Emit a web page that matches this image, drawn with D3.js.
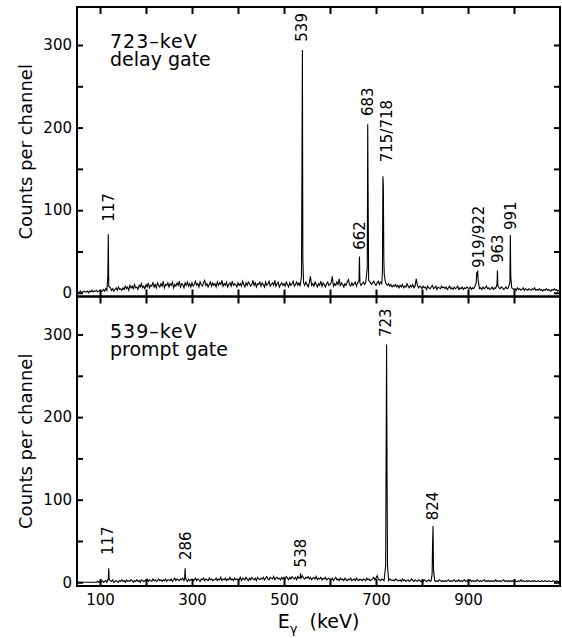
<!DOCTYPE html>
<html>
<head>
<meta charset="utf-8">
<script src="https://cdnjs.cloudflare.com/ajax/libs/d3/7.8.5/d3.min.js"></script>
<style>
    body { margin: 0; background: white; }
    text { font-family: "DejaVu Sans", sans-serif; fill: black; }
    .axis text { font-size: 15px; }
    .axis line { stroke: black; stroke-width: 2; }
    .axis path { display: none; }
    .peak.label { font-size: 15px; }
    .gate.label { font-size: 19px; }
    .axis.title { font-size: 18px; }
    .x.title { font-size: 19px; }
    .spectrum { fill: none; stroke: black; stroke-width: 1.1; stroke-linejoin: miter; }
    .frame { fill: none; stroke: black; stroke-width: 2; }
</style>
</head>
<body>
<svg id="chart" width="562" height="638"></svg>
<script>
// background channels, one value every 2.5 keV from 50 to 1100 keV
const bgEnergies = d3.range(50, 1100.1, 2.5);

// 723-keV delay gate (one row = 50 keV)
const topBackground = [
    1, 0, 1, 2, 0, 1, 2, 1, 1, 2, 0, 2, 1, 3, 1, 2, 2, 3, 1, 2,
    3, 1, 2, 4, 2, 5, 3, 2, 4, 6, 3, 5, 2, 4, 6, 3, 7, 4, 5, 3,
    6, 4, 8, 5, 7, 3, 9, 6, 8, 5, 10, 6, 7, 4, 9, 7, 11, 6, 8, 5,
    10, 7, 12, 6, 9, 8, 13, 7, 10, 6, 12, 9, 7, 11, 8, 14, 6, 10, 9, 12,
    7, 11, 9, 13, 6, 10, 8, 12, 9, 14, 7, 11, 10, 6, 12, 9, 13, 8, 11, 7,
    12, 8, 10, 14, 9, 11, 7, 13, 10, 8, 12, 15, 9, 11, 7, 10, 13, 8, 12, 9,
    11, 7, 13, 9, 12, 10, 15, 8, 11, 9, 13, 7, 10, 12, 8, 14, 9, 11, 10, 7,
    12, 9, 11, 8, 14, 10, 7, 12, 9, 13, 11, 8, 10, 15, 9, 12, 7, 11, 10, 13,
    8, 12, 10, 7, 13, 9, 11, 14, 8, 10, 12, 9, 15, 8, 11, 13, 7, 10, 12, 9,
    11, 8, 13, 10, 7, 12, 9, 11, 14, 8, 10, 13, 9, 12, 8, 11, 16, 12, 9, 13,
    10, 7, 12, 20, 9, 11, 8, 13, 10, 7, 11, 9, 14, 8, 12, 10, 7, 11, 13, 9,
    10, 12, 20, 8, 11, 9, 13, 10, 17, 8, 12, 10, 7, 11, 9, 13, 16, 10, 8, 12,
    9, 11, 13, 8, 12, 10, 14, 9, 11, 13, 10, 12, 15, 9, 11, 13, 10, 12, 14, 11,
    9, 12, 14, 10, 13, 11, 8, 12, 14, 10, 9, 11, 8, 10, 7, 9, 8, 10, 7, 9,
    6, 9, 7, 10, 6, 8, 7, 11, 8, 6, 9, 7, 10, 6, 8, 17, 9, 6, 8, 7,
    5, 8, 6, 7, 4, 8, 6, 5, 7, 9, 5, 6, 8, 4, 7, 6, 5, 8, 6, 7,
    5, 7, 4, 6, 8, 5, 6, 4, 7, 5, 6, 8, 4, 6, 5, 7, 4, 6, 5, 7,
    6, 5, 7, 4, 6, 5, 8, 6, 4, 7, 5, 6, 4, 7, 5, 6, 8, 5, 6, 4,
    5, 7, 4, 6, 5, 8, 4, 6, 5, 7, 6, 4, 5, 7, 5, 6, 4, 5, 6, 5,
    4, 5, 3, 6, 4, 5, 3, 4, 6, 3, 5, 4, 3, 5, 4, 3, 5, 4, 6, 3,
    4, 3, 5, 3, 4, 2, 4, 3, 5, 3, 4, 3, 2, 4, 3, 5, 3, 4, 2, 3,
    2
];
// peak channels [keV, counts]
const topPeaks = [
    [117, 20], [118, 71], [119, 8],
    [538, 20], [539, 150], [540, 294], [541, 40],
    [663, 15], [664, 44], [665, 12],
    [681, 30], [682, 204], [683, 106], [684, 15],
    [714, 25], [715, 141], [716, 128], [717, 40], [718, 22],
    [918, 12], [919, 25], [920, 20], [921, 27], [922, 15],
    [963, 10], [964, 27], [965, 8],
    [991, 12], [992, 70], [993, 20]
];
const topLabels = ["117", "539", "662", "683", "715/718", "919/922", "963", "991"];
const topLabelEnergies = [118, 538, 664, 682, 724, 922, 964, 992];
const topLabelCounts = [86, 304, 52, 214, 158, 30, 36, 76];
const topGate = ["723\u2013keV", "delay gate"];

// 539-keV prompt gate (one row = 50 keV)
const bottomBackground = [
    0, 0, 0, 0, 0, 0, 0, 0, 0, 0, 0, 0, 0, 0, 0, 0, 0, 0, 1, 0,
    1, 0, 2, 0, 1, 2, 0, 1, 0, 2, 1, 3, 0, 1, 2, 1, 0, 2, 1, 3,
    1, 2, 0, 3, 1, 2, 1, 3, 2, 0, 2, 1, 3, 1, 2, 0, 3, 2, 1, 2,
    2, 4, 1, 3, 2, 1, 4, 2, 3, 1, 2, 4, 2, 3, 1, 3, 2, 4, 1, 3,
    3, 2, 4, 1, 3, 5, 2, 4, 3, 2, 4, 3, 5, 2, 4, 3, 1, 4, 2, 3,
    4, 2, 3, 5, 2, 4, 3, 1, 4, 3, 5, 2, 4, 3, 2, 5, 3, 4, 2, 3,
    3, 5, 2, 4, 3, 6, 2, 4, 3, 5, 2, 4, 3, 6, 3, 4, 2, 5, 3, 4,
    4, 3, 6, 2, 5, 4, 3, 6, 4, 2, 5, 3, 6, 4, 3, 5, 2, 6, 4, 3,
    5, 4, 6, 3, 5, 7, 4, 3, 6, 5, 4, 7, 3, 5, 6, 4, 5, 3, 6, 4,
    6, 4, 7, 5, 3, 6, 4, 7, 5, 4, 6, 3, 7, 5, 4, 6, 8, 5, 4, 6,
    5, 7, 4, 6, 3, 5, 6, 4, 7, 3, 5, 4, 6, 3, 5, 4, 6, 3, 4, 5,
    4, 3, 5, 2, 4, 6, 3, 4, 2, 5, 3, 4, 2, 5, 3, 2, 4, 3, 5, 2,
    3, 4, 2, 5, 3, 2, 4, 3, 2, 4, 3, 2, 5, 3, 4, 2, 3, 4, 6, 3,
    5, 8, 4, 3, 2, 4, 3, 2, 3, 4, 3, 2, 4, 3, 2, 3, 2, 4, 3, 2,
    2, 3, 1, 4, 2, 3, 1, 2, 3, 1, 2, 4, 2, 1, 3, 2, 1, 3, 2, 1,
    2, 1, 3, 2, 1, 2, 3, 1, 2, 1, 3, 2, 1, 2, 1, 3, 2, 1, 2, 1,
    2, 1, 2, 3, 1, 2, 1, 2, 3, 1, 2, 1, 3, 1, 2, 1, 2, 3, 1, 2,
    1, 2, 3, 1, 2, 1, 2, 1, 3, 2, 1, 2, 1, 2, 3, 1, 2, 1, 2, 1,
    2, 1, 2, 1, 3, 1, 2, 1, 2, 1, 2, 3, 1, 2, 1, 2, 1, 2, 1, 2,
    1, 2, 1, 1, 2, 1, 3, 1, 2, 1, 1, 2, 1, 2, 1, 1, 2, 1, 2, 1,
    1, 2, 1, 1, 2, 1, 1, 2, 1, 1, 2, 1, 1, 1, 2, 1, 1, 2, 1, 1,
    1
];
const bottomPeaks = [
    [118, 4], [119, 17], [120, 3],
    [284, 4], [285, 17], [286, 5],
    [535, 6], [536, 11], [537, 5],
    [721, 20], [722, 154], [723, 288], [724, 134], [725, 20],
    [822, 10], [823, 48], [824, 68], [825, 15]
];
const bottomLabels = ["117", "286", "538", "723", "824"];
const bottomLabelEnergies = [116, 285, 535, 720, 822];
const bottomLabelCounts = [33, 27, 18, 297, 75];
const bottomGate = ["539\u2013keV", "prompt gate"];

// axes
const energyDomain = [50, 1100];
const countDomain = [-4.5, 346];
const yTicks = [0, 50, 100, 150, 200, 250, 300];
const yTickLabels = [0, 100, 200, 300];
const xTicks = [100, 200, 300, 400, 500, 600, 700, 800, 900, 1000];
const xTickLabels = [100, 300, 500, 700, 900];

let margin = { left: 77, right: 2, top: 7, bottom: 52 };
let w = 562;
let h = 638;
let panelH = (h - margin.top - margin.bottom) / 2;

let svg = d3.select("#chart");

let xScale = d3.scaleLinear()
    .domain(energyDomain)
    .range([margin.left, w - margin.right]);

// merges the peak channels into the background and sorts by energy
function buildSpectrum(background, peaks) {
    let points = bgEnergies.map((e, i) => [e, background[i]])
        .filter((p) => !peaks.some((q) => Math.abs(q[0] - p[0]) < 1.3));
    return points.concat(peaks).sort((a, b) => a[0] - b[0]);
}

function drawPanel(index, background, peaks, labels, labelEnergies, labelCounts, gate) {
    let top = margin.top + index * panelH;
    let bottom = top + panelH;
    let yScale = d3.scaleLinear()
        .domain(countDomain)
        .range([bottom, top]);

    let g = svg.append("g").attr("class", "panel");

    // keeps the spectrum inside the frame
    let clipId = "clip" + index;
    g.append("clipPath").attr("id", clipId)
        .append("rect")
        .attr("x", margin.left)
        .attr("y", top)
        .attr("width", w - margin.left - margin.right)
        .attr("height", panelH);

    let line = d3.line()
        .x((d) => xScale(d[0]))
        .y((d) => yScale(d[1]));

    g.append("path")
        .attr("class", "spectrum")
        .attr("clip-path", "url(#" + clipId + ")")
        .attr("d", line(buildSpectrum(background, peaks)));

    // inward ticks on all four sides
    g.append("g")
        .attr("class", "y axis")
        .attr("transform", "translate(" + margin.left + ",0)")
        .call(d3.axisLeft(yScale)
            .tickValues(yTicks)
            .tickSize(-6)
            .tickPadding(5)
            .tickFormat((d) => yTickLabels.includes(d) ? d : ""));

    g.append("g")
        .attr("class", "y axis")
        .attr("transform", "translate(" + (w - margin.right) + ",0)")
        .call(d3.axisRight(yScale)
            .tickValues(yTicks)
            .tickSize(-6)
            .tickFormat(""));

    g.append("g")
        .attr("class", "x axis")
        .attr("transform", "translate(0," + top + ")")
        .call(d3.axisTop(xScale)
            .tickValues(xTicks)
            .tickSize(-7)
            .tickFormat(""));

    g.append("g")
        .attr("class", "x axis")
        .attr("transform", "translate(0," + bottom + ")")
        .call(d3.axisBottom(xScale)
            .tickValues(xTicks)
            .tickSize(-7)
            .tickPadding(8)
            .tickFormat((d) => (index == 1 && xTickLabels.includes(d)) ? d : ""));

    g.append("rect")
        .attr("class", "frame")
        .attr("x", margin.left)
        .attr("y", top)
        .attr("width", w - margin.left - margin.right)
        .attr("height", panelH);

    // peak labels, written upwards
    g.selectAll(".peak.label")
        .data(labels)
        .enter()
        .append("text")
        .attr("class", "peak label")
        .attr("transform", (d, i) => "translate(" + xScale(labelEnergies[i]) + "," + yScale(labelCounts[i]) + ") rotate(-90)")
        .attr("dy", "0.36em")
        .text((d) => d);

    // gate description
    let gateText = g.append("text")
        .attr("class", "gate label")
        .attr("x", 110)
        .attr("y", top + 41);
    gate.forEach((t, i) => {
        gateText.append("tspan")
            .attr("x", 110)
            .attr("dy", i == 0 ? 0 : 18)
            .style("letter-spacing", i == 0 ? "1px" : "0px")
            .text(t);
    });

    // y axis title
    g.append("text")
        .attr("class", "axis title")
        .attr("text-anchor", "middle")
        .attr("transform", "translate(31.5," + (top + bottom) / 2 + ") rotate(-90)")
        .text("Counts per channel");
}

drawPanel(0, topBackground, topPeaks, topLabels, topLabelEnergies, topLabelCounts, topGate);
drawPanel(1, bottomBackground, bottomPeaks, bottomLabels, bottomLabelEnergies, bottomLabelCounts, bottomGate);

// x axis title
let xTitle = svg.append("text")
    .attr("class", "x title")
    .attr("text-anchor", "middle")
    .attr("x", (margin.left + w - margin.right) / 2)
    .attr("y", 628);
xTitle.append("tspan").text("E");
xTitle.append("tspan")
    .attr("dy", 5)
    .style("font-size", "13px")
    .text("\u03b3");
xTitle.append("tspan")
    .attr("dy", -5)
    .text("\u00a0 (keV)");
</script>
</body>
</html>
